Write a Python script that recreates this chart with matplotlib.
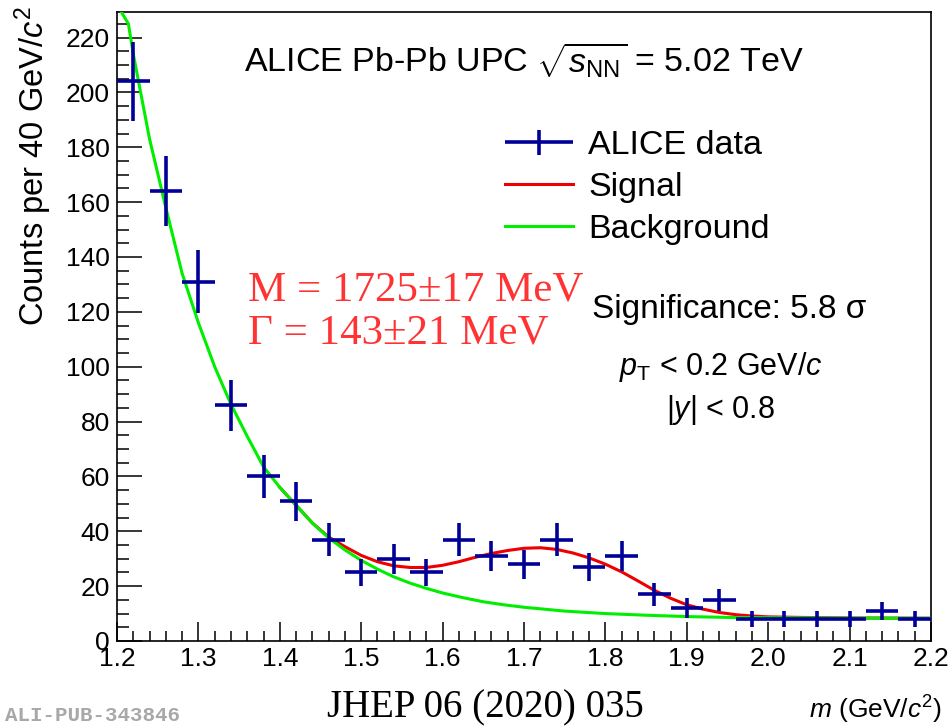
import matplotlib
matplotlib.use("Agg")
import matplotlib.pyplot as plt
from matplotlib.ticker import MultipleLocator, FormatStrFormatter
from matplotlib.legend_handler import HandlerErrorbar
from matplotlib.container import ErrorbarContainer
import numpy as np

plt.rcParams['font.family'] = ['Liberation Sans', 'DejaVu Sans']
plt.rcParams['mathtext.fontset'] = 'custom'
plt.rcParams['mathtext.rm'] = 'Liberation Sans'
plt.rcParams['mathtext.it'] = 'Liberation Sans:italic'
plt.rcParams['mathtext.bf'] = 'Liberation Sans:bold'

# data: bin centres (40 MeV bins), counts, stat errors
mass = [1.22, 1.26, 1.30, 1.34, 1.38, 1.42, 1.46, 1.50, 1.54, 1.58, 1.62, 1.66, 1.70,
        1.74, 1.78, 1.82, 1.86, 1.90, 1.94, 1.98, 2.02, 2.06, 2.10, 2.14, 2.18]
counts = [204, 164, 131, 86, 60, 51, 37, 25, 30, 25, 37, 31, 28,
          37, 27, 31, 17, 12, 15, 8, 8, 8, 8, 11, 8]
count_err = [14.3, 12.8, 11.4, 9.3, 7.7, 7.1, 6.1, 5.0, 5.5, 5.0, 6.1, 5.6, 5.3,
             6.1, 5.2, 5.6, 4.1, 3.5, 3.9, 2.8, 2.8, 2.8, 2.8, 3.3, 2.8]
bin_half = 0.02

# fitted curves
bkg_x = [1.205, 1.214, 1.22, 1.24, 1.26, 1.28, 1.30, 1.32, 1.34, 1.36, 1.38, 1.40, 1.42,
         1.44, 1.46, 1.48, 1.50, 1.52, 1.54, 1.56, 1.58, 1.60, 1.625, 1.65, 1.675, 1.70,
         1.75, 1.80, 1.85, 1.90, 1.95, 2.00, 2.10, 2.20]
bkg_y = [229.5, 225, 214, 183, 158, 134, 116, 100, 86.3, 74.6, 63.5, 56.0, 49.5,
         43.0, 37.6, 33.2, 29.4, 26.2, 23.4, 21.1, 19.2, 17.5, 15.8, 14.3, 13.2, 12.3,
         10.9, 10.0, 9.4, 8.9, 8.6, 8.5, 8.35, 8.3]
sig_x = [1.40, 1.42, 1.44, 1.46, 1.48, 1.50, 1.52, 1.54, 1.56, 1.58, 1.60, 1.62, 1.64,
         1.66, 1.68, 1.70, 1.72, 1.74, 1.76, 1.78, 1.80, 1.82, 1.84, 1.86, 1.88, 1.90,
         1.92, 1.94, 1.96, 1.98, 2.00, 2.04, 2.10, 2.20]
sig_y = [56.0, 49.5, 43.0, 37.9, 34.4, 31.2, 28.9, 27.4, 26.8, 26.8, 27.6, 28.9, 30.5,
         31.9, 33.0, 33.8, 34.0, 33.4, 32.1, 30.3, 28.0, 25.2, 21.9, 18.5, 15.6, 13.2,
         11.6, 10.4, 9.6, 9.1, 8.8, 8.6, 8.4, 8.3]

W, H = 952, 727
fig = plt.figure(figsize=(W / 100, H / 100), dpi=100)
ax = fig.add_axes([117 / W, 1 - 641 / H, (931 - 117) / W, (641 - 12) / H])

blue = '#000099'
ax.plot(sig_x, sig_y, color='#ee0000', lw=2.2, label='Signal', zorder=2)
ax.plot(bkg_x, bkg_y, color='#00ee00', lw=2.2, label='Background', zorder=3)
eb = ax.errorbar(mass, counts, xerr=bin_half, yerr=count_err, fmt='none',
                 ecolor=blue, elinewidth=2.6, capsize=0, label='ALICE data', zorder=4)

ax.set_xlim(1.2, 2.2)
ax.set_ylim(0, 229.3)
ax.xaxis.set_major_locator(MultipleLocator(0.1))
ax.xaxis.set_minor_locator(MultipleLocator(0.02))
ax.xaxis.set_major_formatter(FormatStrFormatter('%.1f'))
ax.yaxis.set_major_locator(MultipleLocator(20))
ax.yaxis.set_minor_locator(MultipleLocator(5))
ax.tick_params(axis='both', which='both', direction='in', width=1.1, labelsize=19,
               top=False, right=False)
ax.tick_params(axis='y', which='major', length=18, pad=5)
ax.tick_params(axis='y', which='minor', length=8.6)
ax.tick_params(axis='x', which='major', length=13.7, pad=4)
ax.tick_params(axis='x', which='minor', length=7.2)
for s in ax.spines.values():
    s.set_linewidth(1.2)

handles, labels = ax.get_legend_handles_labels()
order = [labels.index('ALICE data'), labels.index('Signal'), labels.index('Background')]
ax.legend([handles[i] for i in order], [labels[i] for i in order],
          loc='upper left', bbox_to_anchor=(0.4767, 0.812), frameon=False,
          fontsize=24.5, handlelength=2.0, handletextpad=0.45, labelspacing=0.32,
          borderpad=0, borderaxespad=0,
          handler_map={ErrorbarContainer: HandlerErrorbar(xerr_size=1.0, yerr_size=0.36)})

ax.text(1.70, 206.9, r'ALICE Pb-Pb UPC $\sqrt{s_{\rm NN}}$ = 5.02 TeV', fontsize=24.5,
        ha='center', va='baseline')
ax.text(1.361, 124, 'M = 1725±17 MeV', fontsize=31, color='#ff3333',
        family=['Liberation Serif'], va='baseline')
ax.text(1.361, 108.6, 'Γ = 143±21 MeV', fontsize=31, color='#ff3333',
        family=['Liberation Serif'], va='baseline')
ax.text(1.784, 117.7, 'Significance: 5.8 σ', fontsize=24, va='baseline')
ax.text(1.942, 96.9, r'$p_{\rm T}$ < 0.2 GeV/$c$', fontsize=22, ha='center', va='baseline')
ax.text(1.942, 81.2, r'|$y$| < 0.8', fontsize=22, ha='center', va='baseline')

fig.text(33 / W, 1 - 6 / H, r'Counts per 40 GeV/$c^2$', rotation=90, fontsize=23.5,
         ha='center', va='top')
fig.text(942 / W, 1 - 719 / H, r'$m$ (GeV/$c^2$)', fontsize=19, ha='right', va='baseline')
fig.text(485 / W, 1 - 717 / H, 'JHEP 06 (2020) 035', fontsize=28,
         family=['Liberation Serif'], ha='center', va='baseline')
fig.text(5 / W, 1 - 721 / H, 'ALI-PUB-343846', fontsize=15, color='#a8a8a8',
         family=['Liberation Mono'], weight='bold', ha='left', va='baseline')

fig.savefig('out.png', dpi=100)
